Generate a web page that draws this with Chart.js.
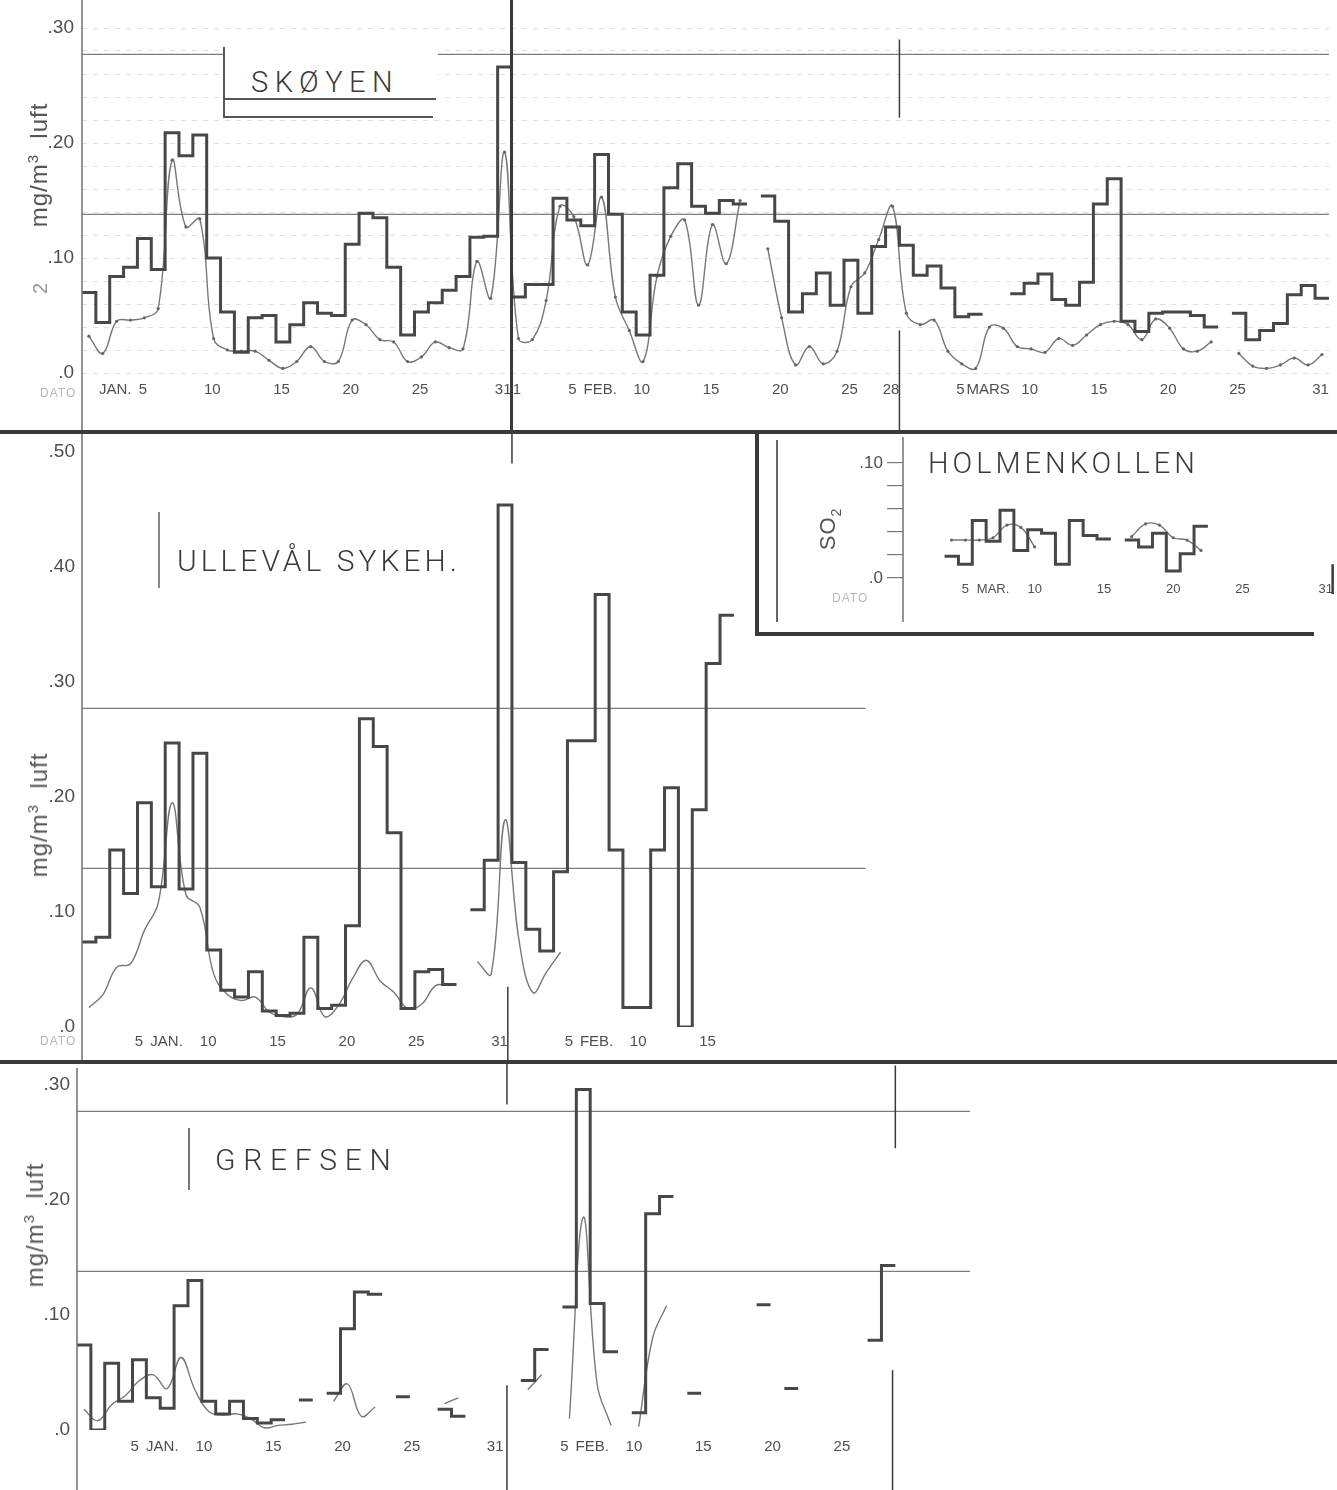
<!DOCTYPE html>
<html>
<head>
<meta charset="utf-8">
<script src="https://cdn.jsdelivr.net/npm/chart.js@4.4.1/dist/chart.umd.min.js"></script>
<style>
  html, body { margin: 0; padding: 0; background: #fff; }
  #page { position: relative; width: 1337px; height: 1490px; background: #fff; overflow: hidden;
          font-family: 'Liberation Sans', Arial, sans-serif; color: #4a4a4a; }
  canvas { position: absolute; }
  .rule { position: absolute; background: #3a3a3a; }
  .thin { position: absolute; background: #666; }
  .title { position: absolute; font-family: Roboto, 'Liberation Sans', sans-serif; font-weight: 300;
           color: #3a3a3a; white-space: nowrap; line-height: 1; }
  .ytitle { position: absolute; transform: translate(-50%, -50%) rotate(-90deg); white-space: nowrap;
            font-size: 24px; color: #555; letter-spacing: 1px; line-height: 1; }
  .ytitle sup { font-size: 15px; }
  .dato { position: absolute; font-size: 12px; color: #b8b8b8; letter-spacing: 1px; }
</style>
</head>
<body>
<div id="page">
  <canvas id="skoyen" width="1337" height="432" style="left:0px;top:0px"></canvas>
  <canvas id="ulleval" width="870" height="630" style="left:0px;top:432px"></canvas>
  <canvas id="grefsen" width="975" height="428" style="left:0px;top:1062px"></canvas>
  <canvas id="holmen" width="580" height="203" style="left:757px;top:432px"></canvas>

  <!-- panel separators and boxes -->
  <div class="rule" style="left:0px;top:430px;width:1337px;height:4px"></div>
  <div class="rule" style="left:0px;top:1060px;width:1337px;height:4px"></div>
  <div style="position:absolute;left:755px;top:432px;width:555px;height:200px;border-left:4px solid #3a3a3a;border-bottom:4px solid #3a3a3a"></div>
  <div class="thin" style="left:776px;top:440px;width:1.5px;height:182px"></div>

  <!-- Skøyen title box -->
  <div style="position:absolute;left:223px;top:47px;width:213px;height:71px;background:#fff;border-left:2px solid #555"></div>
  <div class="thin" style="left:223px;top:98px;width:213px;height:2px;background:#555"></div>
  <div class="thin" style="left:223px;top:116px;width:210px;height:2px;background:#555"></div>
  <div class="title" style="left:251px;top:68px;font-size:29px;letter-spacing:6.5px">SKØYEN</div>

  <div class="thin" style="left:158px;top:512px;width:1.5px;height:76px;background:#888"></div>
  <div class="title" style="left:177px;top:546px;font-size:30px;letter-spacing:4px">ULLEVÅL SYKEH.</div>

  <div class="thin" style="left:188px;top:1128px;width:1.5px;height:62px;background:#777"></div>
  <div class="title" style="left:215px;top:1145px;font-size:30px;letter-spacing:7.7px">GREFSEN</div>

  <div class="title" style="left:928px;top:449px;font-size:29px;letter-spacing:4px">HOLMENKOLLEN</div>

  <!-- axis titles -->
  <div class="ytitle" style="left:38px;top:165px">mg/m<sup>3</sup>&nbsp;&nbsp;luft</div>
  <div class="ytitle" style="left:38px;top:815px">mg/m<sup>3</sup>&nbsp;&nbsp;luft</div>
  <div class="ytitle" style="left:34px;top:1225px">mg/m<sup>3</sup>&nbsp;&nbsp;luft</div>
  <div class="ytitle" style="left:830px;top:529px;font-size:22px">SO<sub style="font-size:14px">2</sub></div>
  <div class="ytitle" style="left:40px;top:288px;font-size:20px;color:#999">2</div>
  <div class="dato" style="left:40px;top:386px">DATO</div>
  <div class="dato" style="left:40px;top:1034px">DATO</div>
  <div class="dato" style="left:832px;top:591px">DATO</div>
</div>

<script>
// ---------------- data (mg/m3 luft, daily values) ----------------
// Skøyen, daily step values
const skoyenStepJan = [0.070, 0.044, 0.084, 0.092, 0.117, 0.090, 0.209, 0.189, 0.207, 0.100,
                       0.053, 0.018, 0.048, 0.050, 0.027, 0.042, 0.061, 0.052, 0.050, 0.112,
                       0.139, 0.135, 0.092, 0.033, 0.053, 0.061, 0.072, 0.084, 0.118, 0.119, 0.266];
const skoyenStepFeb = [0.066, 0.077, 0.077, 0.152, 0.133, 0.128, 0.190, 0.138, 0.053, 0.033,
                       0.085, 0.161, 0.182, 0.145, 0.139, 0.150, 0.147, null, 0.154, 0.132,
                       0.053, 0.069, 0.087, 0.059, 0.098, 0.052, 0.110, 0.127];
const skoyenStepMar = [0.111, 0.085, 0.093, 0.074, 0.049, 0.051, null, null, 0.069, 0.078,
                       0.086, 0.064, 0.059, 0.079, 0.147, 0.169, 0.045, 0.036, 0.052, 0.053,
                       0.053, 0.050, 0.040, null, 0.052, 0.029, 0.037, 0.043, 0.068, 0.076, 0.065];
// Skøyen, thin curve
const skoyenCurveJan = [0.032, 0.017, 0.045, 0.046, 0.048, 0.056, 0.185, 0.127, 0.134, 0.030,
                        0.020, 0.019, 0.019, 0.011, 0.004, 0.010, 0.023, 0.010, 0.010, 0.046,
                        0.042, 0.029, 0.027, 0.010, 0.014, 0.027, 0.022, 0.021, 0.097, 0.065, 0.192];
const skoyenCurveFeb = [0.030, 0.029, 0.063, 0.145, 0.136, 0.094, 0.153, 0.066, 0.037, 0.010,
                        0.084, 0.119, 0.133, 0.059, 0.129, 0.095, 0.150, null, 0.108, 0.048,
                        0.007, 0.023, 0.008, 0.019, 0.075, 0.087, 0.116, 0.145];
const skoyenCurveMar = [0.052, 0.042, 0.046, 0.019, 0.008, 0.004, 0.040, 0.039, 0.023, 0.021,
                        0.018, 0.030, 0.024, 0.033, 0.042, 0.045, 0.042, 0.029, 0.047, 0.039,
                        0.021, 0.019, 0.027, null, 0.017, 0.006, 0.004, 0.007, 0.013, 0.007, 0.016];

// Ullevål sykehus
const ullevalStepJan = [0.074, 0.078, 0.154, 0.116, 0.195, 0.122, 0.247, 0.120, 0.238, 0.067,
                        0.032, 0.026, 0.048, 0.014, 0.010, 0.012, 0.078, 0.016, 0.019, 0.088,
                        0.268, 0.244, 0.169, 0.016, 0.048, 0.050, 0.037, null, 0.102, 0.145, 0.454];
const ullevalStepFeb = [0.143, 0.085, 0.066, 0.135, 0.249, 0.249, 0.376, 0.154, 0.017, 0.017,
                        0.154, 0.208, 0.000, 0.189, 0.316, 0.358];
const ullevalCurveJan = [0.017, 0.028, 0.052, 0.055, 0.084, 0.108, 0.195, 0.115, 0.104, 0.046,
                         0.028, 0.023, 0.026, 0.013, 0.009, 0.011, 0.034, 0.009, 0.019, 0.042,
                         0.058, 0.040, 0.030, 0.016, 0.020, 0.036, 0.036, null, 0.057, 0.046, 0.180];
const ullevalCurveFeb = [0.076, 0.030, 0.048, 0.065];

// Grefsen
const grefsenStepJan = [0.074, 0.000, 0.058, 0.025, 0.061, 0.028, 0.019, 0.108, 0.130, 0.025,
                        0.014, 0.025, 0.010, 0.006, 0.009, null, 0.026, null, 0.032, 0.088,
                        0.120, 0.118, null, 0.029, null, null, 0.018, 0.012, null, null, null];
const grefsenStepFeb = [null, 0.043, 0.070, null, 0.107, 0.296, 0.110, 0.068, null, 0.015,
                        0.188, 0.203, null, 0.032, null, null, null, null, 0.109, null,
                        0.036, null, null, null, null, null, 0.078, 0.143];
const grefsenCurveJan = [0.018, 0.008, 0.022, 0.030, 0.043, 0.048, 0.036, 0.063, 0.035, 0.016,
                         0.013, 0.014, 0.010, 0.002, 0.004, 0.005, 0.007, null, 0.025, 0.040,
                         0.012, 0.020, null, null, null, null, 0.023, 0.028, null, null, null];
const grefsenCurveFeb = [null, 0.035, 0.048, null, 0.010, 0.185, 0.040, 0.004, null, 0.003,
                         0.080, 0.108];

// Holmenkollen (SO2), March
const holmenStepMar = [null, null, null, 0.019, 0.012, 0.050, 0.032, 0.059, 0.024, 0.042,
                       0.039, 0.012, 0.050, 0.037, 0.034, null, 0.033, 0.027, 0.039, 0.006,
                       0.021, 0.045];
const holmenCurveMar = [null, null, null, 0.033, 0.033, 0.033, 0.035, 0.046, 0.044, 0.027,
                        null, null, null, null, null, null, 0.036, 0.047, 0.046, 0.035,
                        0.033, 0.024];

// reference levels
const refLevels = [0.138, 0.277];

// axis labels (day of year, Jan 1 = 1)
const skoyenTickDays = [3, 5, 10, 15, 20, 25, 31, 32, 36, 38, 41, 46, 51, 56, 59, 64, 66, 69, 74, 79, 84, 90];
const skoyenTickLabels = ['JAN.', '5', '10', '15', '20', '25', '31', '1', '5', 'FEB.', '10', '15', '20', '25', '28',
                          '5', 'MARS', '10', '15', '20', '25', '31'];
const ullevalTickDays = [5, 7, 10, 15, 20, 25, 31, 36, 38, 41, 46];
const ullevalTickLabels = ['5', 'JAN.', '10', '15', '20', '25', '31', '5', 'FEB.', '10', '15'];
const grefsenTickDays = [5, 7, 10, 15, 20, 25, 31, 36, 38, 41, 46, 51, 56];
const grefsenTickLabels = ['5', 'JAN.', '10', '15', '20', '25', '31', '5', 'FEB.', '10', '15', '20', '25'];
const holmenTickDays = [64, 66, 69, 74, 79, 84, 90];
const holmenTickLabels = ['5', 'MAR.', '10', '15', '20', '25', '31'];

// ---------------- drawing ----------------
const PX_PER_DAY = 13.87;
const PX_PER_UNIT = 1150;

Chart.defaults.font.family = "'Liberation Sans', Arial, sans-serif";

// day index 0 = start of Jan 1; step value for a day spans [day-1, day]
function stepPoints(values, firstDay) {
  const pts = [];
  values.forEach((v, i) => {
    if (v === null) return;
    const day = firstDay + i;
    pts.push({ x: day - 1, y: v });
    const next = values[i + 1];
    if (next === null || next === undefined) {
      pts.push({ x: day, y: v });
      pts.push({ x: day, y: null });
    }
  });
  return pts;
}

function curvePoints(values, firstDay) {
  return values.map((v, i) => ({ x: firstDay + i - 0.5, y: v }));
}

function fmtY(v) {
  if (Math.abs(v * 10 - Math.round(v * 10)) > 1e-6) return '';
  const t = Math.round(v * 100);
  return t === 0 ? '.0' : '.' + t;
}

const panelDecor = {
  id: 'panelDecor',
  afterDatasetsDraw(chart, args, o) {
    const { ctx, chartArea, scales } = chart;
    ctx.save();
    ctx.strokeStyle = '#707070';
    ctx.lineWidth = 1.5;
    ctx.beginPath();
    ctx.moveTo(chartArea.left, o.axisFrom);
    ctx.lineTo(chartArea.left, o.axisTo);
    ctx.stroke();
    (o.marks || []).forEach(m => {
      const px = scales.x.getPixelForValue(m.day);
      ctx.strokeStyle = '#3a3a3a';
      ctx.lineWidth = m.width;
      ctx.beginPath();
      ctx.moveTo(px, scales.y.getPixelForValue(m.from));
      ctx.lineTo(px, scales.y.getPixelForValue(m.to));
      ctx.stroke();
    });
    ctx.restore();
  }
};

function drawPanel(id, p) {
  const canvas = document.getElementById(id);
  const W = canvas.width, H = canvas.height;
  // the y scale keeps half a label height + tick padding free at the top
  const minTop = p.yFont * 0.6 + p.yPad + 0.5;
  const plotTop = Math.max(p.zeroY - p.yMax * PX_PER_UNIT, minTop);
  const yMax = (p.zeroY - plotTop) / PX_PER_UNIT;
  const plotRight = p.left + (p.xMax - p.xMin) * PX_PER_DAY;

  const datasets = [];
  (p.refs || []).forEach(level => datasets.push({
    data: [{ x: p.xMin, y: level }, { x: p.xMax, y: level }],
    borderColor: '#7d7d7d', borderWidth: 1.3, pointRadius: 0, order: 3
  }));
  datasets.push({
    data: p.curve, borderColor: '#777', borderWidth: 1.4, tension: 0.4,
    pointRadius: p.dots ? 1.6 : 0, pointBackgroundColor: '#666', pointBorderWidth: 0,
    spanGaps: false, order: 2
  });
  datasets.push({
    data: p.steps, stepped: true, borderColor: '#474747', borderWidth: 3,
    pointRadius: 0, spanGaps: false, order: 1
  });

  return new Chart(canvas, {
    type: 'line',
    data: { datasets },
    options: {
      responsive: false,
      animation: false,
      events: [],
      layout: { autoPadding: false, padding: { top: plotTop, right: W - plotRight, left: 0, bottom: 0 } },
      plugins: {
        legend: { display: false },
        tooltip: { enabled: false },
        panelDecor: { axisFrom: p.axisFrom, axisTo: p.axisTo, marks: p.marks }
      },
      scales: {
        x: {
          type: 'linear', min: p.xMin, max: p.xMax,
          grid: { display: false, drawTicks: false },
          border: { display: false },
          afterBuildTicks: s => { s.ticks = p.tickDays.map(d => ({ value: d - 1 + p.tickShift })); },
          afterFit: s => { s.height = H - p.zeroY; },
          ticks: {
            autoSkip: false, maxRotation: 0, minRotation: 0, padding: p.xPad,
            color: '#4f4f4f', font: { size: p.xFont },
            callback: (v, i) => p.tickLabels[i]
          }
        },
        y: {
          min: 0, max: yMax,
          afterFit: s => { s.width = p.left; },
          ticks: { stepSize: p.yStep, autoSkip: false, includeBounds: false, padding: p.yPad,
                   color: '#4f4f4f', font: { size: p.yFont }, callback: fmtY },
          grid: p.yGrid,
          border: { display: false, dash: p.yDash || [] }
        }
      }
    },
    plugins: [panelDecor]
  });
}

drawPanel('skoyen', {
  left: 82, zeroY: 373, yMax: 0.32, xMin: 0, xMax: 90,
  steps: stepPoints(skoyenStepJan.concat(skoyenStepFeb, skoyenStepMar), 1),
  curve: curvePoints(skoyenCurveJan.concat(skoyenCurveFeb, skoyenCurveMar), 1),
  dots: true, refs: refLevels,
  tickDays: skoyenTickDays, tickLabels: skoyenTickLabels, tickShift: 0.4, xPad: 8, xFont: 15,
  yStep: 0.02, yPad: 8, yFont: 19,
  yGrid: { color: 'rgba(0,0,0,0.13)', lineWidth: 1, drawTicks: false },
  yDash: [5, 6],
  axisFrom: 0, axisTo: 432,
  marks: [
    { day: 31, from: 0.325, to: -0.06, width: 3 },
    { day: 59, from: 0.29, to: 0.222, width: 1.5 },
    { day: 59, from: 0.037, to: -0.06, width: 1.5 }
  ]
});

drawPanel('ulleval', {
  left: 82, zeroY: 595, yMax: 0.51, xMin: 0, xMax: 56.5,
  steps: stepPoints(ullevalStepJan.concat(ullevalStepFeb), 1),
  curve: curvePoints(ullevalCurveJan.concat(ullevalCurveFeb), 1),
  dots: false, refs: refLevels,
  tickDays: ullevalTickDays, tickLabels: ullevalTickLabels, tickShift: 0.1, xPad: 6, xFont: 15,
  yStep: 0.1, yPad: 7, yFont: 19,
  yGrid: { display: false, drawTicks: false },
  axisFrom: 0, axisTo: 630,
  marks: [
    { day: 31, from: 0.52, to: 0.49, width: 1.5 },
    { day: 30.7, from: 0.035, to: -0.04, width: 1.5 }
  ]
});

drawPanel('grefsen', {
  left: 77, zeroY: 368, yMax: 0.31, xMin: 0, xMax: 64.4,
  steps: stepPoints(grefsenStepJan.concat(grefsenStepFeb), 1),
  curve: curvePoints(grefsenCurveJan.concat(grefsenCurveFeb), 1),
  dots: false, refs: refLevels,
  tickDays: grefsenTickDays, tickLabels: grefsenTickLabels, tickShift: 0.15, xPad: 8, xFont: 15,
  yStep: 0.1, yPad: 7, yFont: 19,
  yGrid: { display: false, drawTicks: false },
  axisFrom: 6, axisTo: 428,
  marks: [
    { day: 31, from: 0.32, to: 0.283, width: 1.5 },
    { day: 31, from: 0.039, to: -0.06, width: 1.5 },
    { day: 59, from: 0.317, to: 0.245, width: 1.5 },
    { day: 58.8, from: 0.052, to: -0.06, width: 1.5 }
  ]
});

drawPanel('holmen', {
  left: 146, zeroY: 146, yMax: 0.12, xMin: 59, xMax: 90,
  steps: stepPoints(holmenStepMar, 60),
  curve: curvePoints(holmenCurveMar, 60),
  dots: true, refs: [],
  tickDays: holmenTickDays, tickLabels: holmenTickLabels, tickShift: 0.5, xPad: 4, xFont: 13,
  yStep: 0.02, yPad: 4, yFont: 17,
  yGrid: { drawOnChartArea: false, drawTicks: true, tickLength: 16, color: '#777', lineWidth: 1.2 },
  axisFrom: 5, axisTo: 190,
  marks: [
    { day: 90, from: 0.012, to: -0.014, width: 2.5 }
  ]
});
</script>
</body>
</html>
